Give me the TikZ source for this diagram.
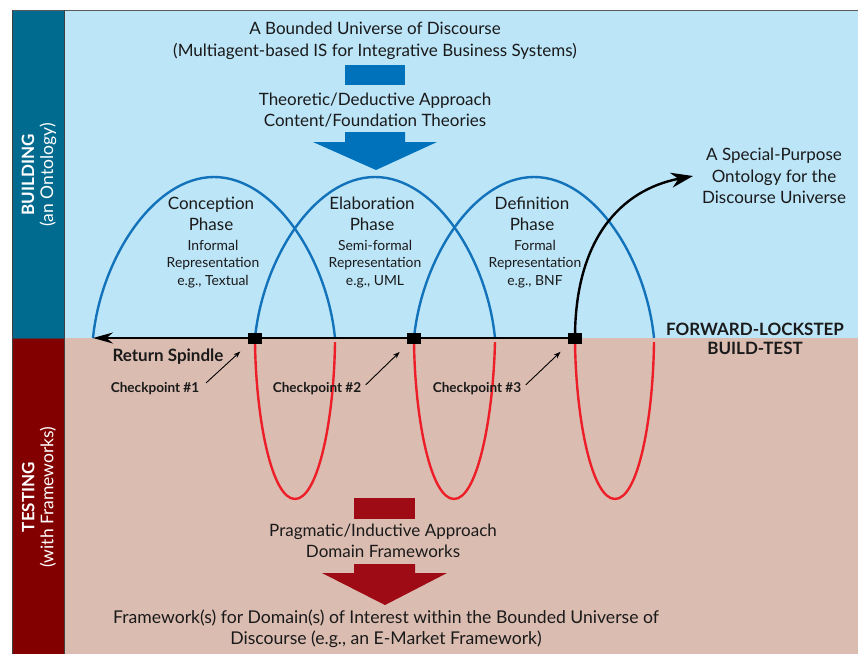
\documentclass[tikz,border=0pt]{standalone}
\usepackage{fontspec}
\setmainfont{Lato}
\usetikzlibrary{arrows.meta,calc}
\definecolor{skyb}{HTML}{BCE5F8}
\definecolor{pinkb}{HTML}{DBBCB1}
\definecolor{tealbar}{HTML}{006A8F}
\definecolor{redbar}{HTML}{820000}
\definecolor{arcblue}{HTML}{1272BA}
\definecolor{loopred}{HTML}{EE1E28}
\definecolor{arrblue}{HTML}{0072BC}
\definecolor{arrred}{HTML}{9E0B14}
\definecolor{txt}{HTML}{1A1A1A}
\tikzset{
  bigtxt/.style={text=txt, align=center, inner sep=0pt, font=\fontsize{17}{21.5}\selectfont},
  phtitle/.style={text=txt, align=center, inner sep=0pt, font=\fontsize{17}{21}\selectfont},
  phsub/.style={text=txt, align=center, inner sep=0pt, font=\fontsize{13.9}{17.5}\selectfont},
  boldlbl/.style={text=txt, align=center, inner sep=0pt, font=\bfseries\fontsize{17}{19}\selectfont},
  cplbl/.style={text=txt, inner sep=0pt, font=\bfseries\fontsize{13.6}{14}\selectfont},
  sidelbl/.style={text=white, align=center, rotate=90, inner sep=0pt, font=\fontsize{17.5}{19}\selectfont},
  cpbox/.style={fill=black, draw=none, minimum width=14pt, minimum height=11pt, inner sep=0pt},
  arcline/.style={draw=arcblue, line width=2.4pt},
  loopline/.style={draw=loopred, line width=2.4pt},
  cparrow/.style={draw=black, line width=0.9pt, -{Stealth[length=7pt,width=5pt]}},
}
\begin{document}
\begin{tikzpicture}[x=1pt,y=-1pt]
\useasboundingbox (0,0) rectangle (858,654);
% backgrounds
\fill[white] (0,0) rectangle (858,654);
\fill[skyb] (64,10) rectangle (858,338);
\fill[pinkb] (64,338) rectangle (858,654);
\fill[tealbar] (12,10) rectangle (64,338);
\fill[redbar] (12,338) rectangle (64,654);
\draw[gray!70!black, line width=0.8pt] (12,10) -- (858,10);
\draw[black!75, line width=0.8pt] (12,654) -- (12,10) (64,10) -- (64,654) (12,338) -- (64,338);

% side labels
\node[sidelbl] (build) at (39,175) {{\bfseries\fontsize{17}{19}\selectfont BUILDING}\\(an Ontology)};
\node[sidelbl] (test) at (39,497) {{\bfseries\fontsize{17}{19}\selectfont TESTING}\\(with Frameworks)};

% top texts and blue arrow
\node[bigtxt] (universe) at (375,41) {A Bounded Universe of Discourse\\(Multiagent-based IS for Integrative Business Systems)};
\fill[arrblue] (345,65) rectangle (405,85);
\node[bigtxt] (theory) at (375,110) {Theoretic/Deductive Approach\\Content/Foundation Theories};
\fill[arrblue] (345,132) -- (405,132) -- (405,142) -- (437,142) -- (376,170) -- (313,142) -- (345,142) -- cycle;

% blue arcs (building)
\draw[arcline] (93,338) .. controls (101,258) and (154,177) .. (214,177) .. controls (274,177) and (327,258) .. (335,338);
\draw[arcline] (255,338) .. controls (263,258) and (315,177) .. (375,177) .. controls (435,177) and (487,258) .. (495,338);
\draw[arcline] (414,338) .. controls (422,258) and (474,177) .. (534,177) .. controls (594,177) and (646,258) .. (654,338);

% red loops (testing)
\draw[loopline] (255,342) .. controls (256,420) and (272,499) .. (295,499) .. controls (318,499) and (334,420) .. (335,342);
\draw[loopline] (414,342) .. controls (415,420) and (431,499) .. (454,499) .. controls (477,499) and (493,420) .. (495,342);
\draw[loopline] (575,342) .. controls (576,420) and (592,499) .. (615,499) .. controls (638,499) and (653,420) .. (654,342);

% phase texts
\node[phtitle] (p1t) at (211,214) {Conception\\Phase};
\node[phsub] (p1s) at (213,264) {Informal\\Representation\\e.g., Textual};
\node[phtitle] (p2t) at (372,214) {Elaboration\\Phase};
\node[phsub] (p2s) at (375,264) {Semi-formal\\Representation\\e.g., UML};
\node[phtitle] (p3t) at (532,214) {Definition\\Phase};
\node[phsub] (p3s) at (535,264) {Formal\\Representation\\e.g., BNF};

% special purpose ontology
\node[bigtxt, align=center] (onto) at (774,176) {A Special-Purpose\\Ontology for the\\Discourse Universe};

% checkpoints
\node[cpbox] (cp1) at (255,338) {};
\node[cpbox] (cp2) at (414,338) {};
\node[cpbox] (cp3) at (575,338) {};
\coordinate (retend) at (93,338);
\draw[black, line width=2pt, -{Stealth[length=20pt,width=11pt]}] (cp3.center) -- (retend);
\draw[black, line width=2.4pt, -{Stealth[length=22pt,width=15pt]}] (cp3.center) .. controls (575,240) and (620,190) .. (693,176);

\node[boldlbl] (fwd) at (755,339) {FORWARD-LOCKSTEP\\BUILD-TEST};
\node[boldlbl] (spindle) at (168,357) {Return Spindle};

\node[cplbl] (c1) at (155,389) {Checkpoint \#1};
\node[cplbl] (c2) at (317,389) {Checkpoint \#2};
\node[cplbl] (c3) at (477,389) {Checkpoint \#3};
\draw[cparrow, shorten <=9pt, shorten >=20pt] (c1.east) -- (cp1.center);
\draw[cparrow, shorten <=6pt, shorten >=20pt] (c2.east) -- (cp2.center);
\draw[cparrow, shorten <=6pt, shorten >=20pt] (c3.east) -- (cp3.center);

% testing texts and red arrow
\fill[arrred] (354,498) rectangle (415,519);
\node[bigtxt] (prag) at (383,541) {Pragmatic/Inductive Approach\\Domain Frameworks};
\fill[arrred] (354,564) -- (415,564) -- (415,573) -- (447,573) -- (385,605) -- (322,573) -- (354,573) -- cycle;
\node[bigtxt, font=\fontsize{17.6}{21.5}\selectfont] (frame) at (386,629) {Framework(s) for Domain(s) of Interest within the Bounded Universe of\\Discourse (e.g., an E-Market Framework)};
\end{tikzpicture}
\end{document}
